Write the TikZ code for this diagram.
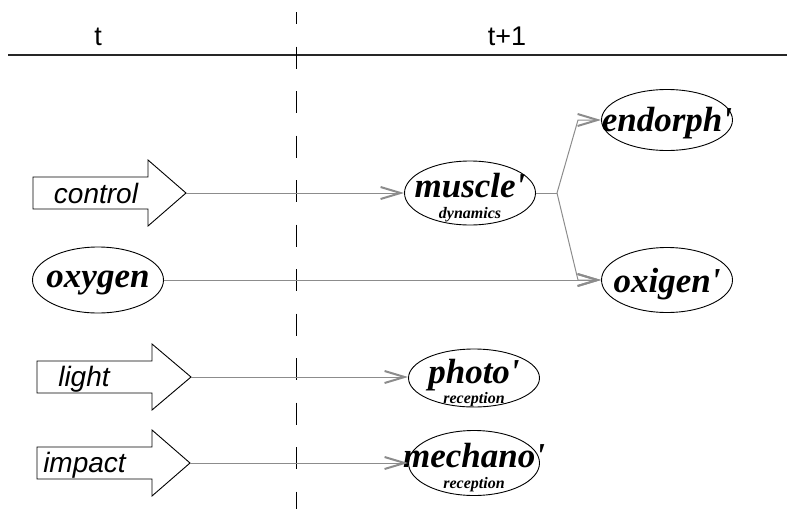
\documentclass[tikz,border=0pt]{standalone}
\usepackage{fontspec}
\usetikzlibrary{arrows.meta,shapes.geometric}
\setmainfont{Liberation Serif}
\newfontfamily\labfont{Liberation Sans}
\definecolor{linkG}{RGB}{140,140,140}
\begin{document}
\begin{tikzpicture}[x=1pt,y=-1pt,
  cell/.style={ellipse,draw,line width=0.9pt,inner sep=0pt,minimum width=131pt},
  word/.style={anchor=base,inner sep=0pt,font=\fontsize{35}{35}\selectfont\bfseries\itshape},
  sub/.style={anchor=base,inner sep=0pt,font=\fontsize{16}{16}\selectfont\bfseries\itshape},
  inlab/.style={anchor=base,inner sep=0pt,font=\fontsize{28}{28}\selectfont\labfont\itshape},
  head/.style={anchor=base,inner sep=0pt,font=\fontsize{27}{27}\selectfont\labfont},
  inbox/.style={draw,line width=0.9pt,line join=miter},
  link/.style={linkG,line width=1pt,-{Straight Barb[length=20pt,width=12pt,line width=2pt]}}]
\useasboundingbox (0,0) rectangle (787,509);
% ---- time axis
\draw[line width=1.3pt,black!85] (8,55) -- (787,55);
\draw[line width=1pt,dash pattern=on 22pt off 22.5pt,dash phase=10pt] (296,12) -- (296,509);
\node[head] (t-now) at (98,45) {t};
\node[head] (t-next) at (507,45) {t+1};
% ---- inputs at t
\draw[inbox] (33,177) -- (148,177) -- (148,160) -- (186,193) -- (148,226) -- (148,209) -- (33,209) -- cycle;
\coordinate (control-tip) at (186,193);
\node[inlab] (control) at (96,203) {control};
\draw[inbox] (37,361) -- (152,361) -- (152,344) -- (191,377) -- (152,410) -- (152,393) -- (37,393) -- cycle;
\coordinate (light-tip) at (191,377);
\node[inlab] (light) at (84,386) {light};
\draw[inbox] (37,447) -- (152,447) -- (152,430) -- (190,463) -- (152,496) -- (152,479) -- (37,479) -- cycle;
\coordinate (impact-tip) at (190,463);
\node[inlab] (impact) at (84.5,472) {impact};
\node[cell,minimum height=66pt] (oxygen) at (98,280) {};
\node[word] (oxygen-w) at ([yshift=-7pt]oxygen.center) {oxygen};
% ---- states at t+1
\node[cell,minimum height=64pt] (muscle) at (470,193) {};
\node[word] (muscle-w) at ([yshift=-4pt]muscle.center) {muscle\textquotesingle};
\node[sub] (muscle-s) at ([yshift=-25pt]muscle.center) {dynamics};
\node[cell,minimum height=61pt] (endorph) at (667,120) {};
\node[word] (endorph-w) at ([yshift=-11pt]endorph.center) {endorph\textquotesingle};
\node[cell,minimum height=65pt] (oxigen) at (667,280) {};
\node[word] (oxigen-w) at ([yshift=-12pt]oxigen.center) {oxigen\textquotesingle};
\node[cell,minimum height=58pt] (photo) at (474,378) {};
\node[word] (photo-w) at ([yshift=-5pt]photo.center) {photo\textquotesingle};
\node[sub] (photo-s) at ([yshift=-25pt]photo.center) {reception};
\node[cell,minimum height=65pt] (mechano) at (474,463) {};
\node[word] (mechano-w) at ([yshift=-4pt]mechano.center) {mechano\textquotesingle};
\node[sub] (mechano-s) at ([yshift=-25pt]mechano.center) {reception};
% ---- links
\coordinate (fork) at (557,193);
\coordinate (fork-up) at (578,120);
\coordinate (fork-dn) at (578,280);
\draw[link] (control-tip) -- (muscle.west);
\draw[link] (oxygen.east) -- (oxigen.west);
\draw[link] (light-tip) -- (light-tip -| photo.west);
\draw[link] (impact-tip) -- (mechano.west);
\draw[linkG,line width=1pt] (muscle.east) -- (fork);
\draw[link] (fork) -- (fork-up) -- (endorph.west);
\draw[link] (fork) -- (fork-dn) -- (oxigen.west);
\end{tikzpicture}
\end{document}
